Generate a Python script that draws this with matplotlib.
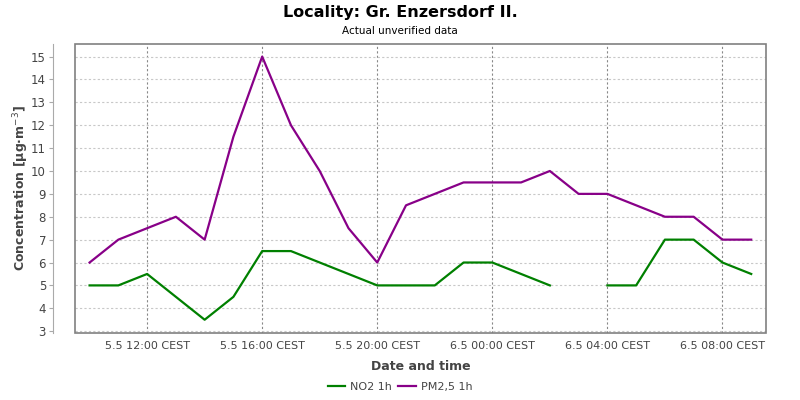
import numpy as np
import matplotlib
matplotlib.use("Agg")
from matplotlib import pyplot as plt
from matplotlib.patches import Rectangle
import matplotlib.dates as mdates
from matplotlib.ticker import FuncFormatter, MultipleLocator

# hourly values, 5.5 10:00 .. 6.5 09:00
start = np.datetime64("2024-05-05T10:00")
n_hours = 24
no2 = [5, 5, 5.5, 4.5, 3.5, 4.5, 6.5, 6.5, 6, 5.5, 5, 5, 5, 6, 6, 5.5, 5,
       np.nan, 5, 5, 7, 7, 6, 5.5]
pm25 = [6, 7, 7.5, 8, 7, 11.5, 15, 12, 10, 7.5, 6, 8.5, 9, 9.5, 9.5, 9.5, 10,
        9, 9, 8.5, 8, 8, 7, 7]

times = start + np.arange(n_hours) * np.timedelta64(1, "h")
times = times.astype("datetime64[ms]").astype(object)

plt.rcParams["font.family"] = ["DejaVu Sans"]
txt = "#444444"

fig = plt.figure(figsize=(8, 4), dpi=100)
ax = fig.add_axes([0.094, 0.1675, 0.863, 0.7225])

ax.plot(times, no2, color="#008000", lw=1.6, label="NO2 1h")
ax.plot(times, pm25, color="#880088", lw=1.6, label="PM2,5 1h")

ax.set_xlim(mdates.date2num(np.datetime64("2024-05-05T09:30")),
            mdates.date2num(np.datetime64("2024-05-06T09:30")))
ax.set_ylim(2.92, 15.55)
ax.yaxis.set_major_locator(MultipleLocator(1))
ax.xaxis.set_major_locator(mdates.HourLocator(byhour=[0, 4, 8, 12, 16, 20]))


def fmt_date(x, pos):
    d = mdates.num2date(x)
    return f"{d.day}.{d.month} {d:%H:%M} CEST"


ax.xaxis.set_major_formatter(FuncFormatter(fmt_date))

ax.grid(axis="y", color="#c8c8c8", lw=0.8, ls=(0, (2, 2)))
ax.grid(axis="x", color="#888888", lw=0.8, ls=(0, (2, 2)))

for s in ["top", "right", "bottom"]:
    ax.spines[s].set_visible(False)
ax.spines["left"].set_position(("outward", 16))
ax.spines["left"].set_color("#aaaaaa")
ax.add_patch(Rectangle((0, 0), 1, 1, transform=ax.transAxes, fill=False,
                       edgecolor="#808080", lw=1.2, clip_on=False, zorder=5))

ax.tick_params(axis="y", colors="#aaaaaa", labelcolor=txt, labelsize=8.5,
               length=3, pad=2)
ax.tick_params(axis="x", length=0, labelcolor=txt, labelsize=8, pad=6)

ax.set_xlabel("Date and time", fontsize=9, fontweight="bold", color=txt,
              labelpad=6)
ax.set_ylabel("Concentration [µg·m$^{-3}$]", fontsize=9, fontweight="bold",
              color=txt, labelpad=0)

fig.text(0.5, 0.968, "Locality: Gr. Enzersdorf II.", ha="center", va="center",
         fontsize=11.5, fontweight="bold")
fig.text(0.5, 0.922, "Actual unverified data", ha="center", va="center",
         fontsize=7.5)

fig.legend(loc="center", bbox_to_anchor=(0.5, 0.032), ncol=2, frameon=False,
           fontsize=8, handlelength=1.6, columnspacing=0.6,
           handletextpad=0.4, labelcolor=txt)

fig.savefig("out.png", dpi=100)
